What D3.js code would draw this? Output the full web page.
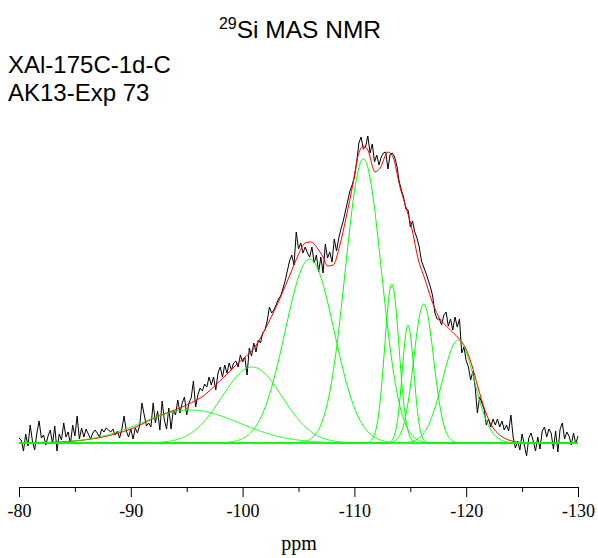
<!DOCTYPE html>
<html>
<head>
<meta charset="utf-8">
<script src="https://cdn.jsdelivr.net/npm/d3@7"></script>
<style>
  html, body { margin: 0; padding: 0; background: #fff; }
  svg { display: block; }
</style>
</head>
<body>
<svg id="chart" width="598" height="558"></svg>
<script>
// ---------------------------------------------------------------
// Data
// ---------------------------------------------------------------

// measured spectrum, one value every 0.2 ppm from -80 to -130
const specStart = -80;
const specStep = -0.2;
const specValues = [
  5, 3, -8, 9, -3, 18, 2, -7, 10, 22,
  5, 8, -2, 7, 13, -1, 17, -8, 9, 3,
  20, 6, 11, -1, 18, 7, 27, 4, 15, 6,
  14, 9, 4, 10, 13, 10, 6, 14, 11, 15,
  13, 11, 14, 8, 12, 5, 14, 27, 12, 6,
  14, 4, 15, 10, 18, 40, 28, 17, 20, 16,
  40, 20, 32, 13, 42, 23, 14, 35, 14, 33,
  28, 43, 30, 40, 46, 28, 40, 45, 62, 36,
  48, 55, 52, 59, 56, 66, 58, 66, 53, 70,
  76, 66, 78, 70, 80, 73, 80, 82, 76, 88,
  81, 86, 68, 95, 87, 100, 91, 103, 100, 110,
  113, 122, 136, 130, 133, 138, 144, 147, 154, 162,
  172, 182, 188, 178, 211, 194, 200, 190, 196, 190,
  186, 196, 180, 188, 171, 186, 170, 199, 185, 191,
  181, 204, 192, 205, 214, 222, 232, 242, 252, 258,
  266, 280, 300, 306, 294, 296, 307, 290, 299, 281,
  288, 278, 286, 290, 291, 274, 289, 290, 286, 277,
  262, 253, 246, 234, 233, 216, 222, 211, 205, 196,
  182, 176, 170, 163, 156, 147, 130, 124, 124, 118,
  128, 131, 117, 124, 113, 126, 116, 124, 90, 96,
  82, 76, 63, 72, 56, 30, 46, 40, 34, 18,
  24, 16, 24, 18, 24, 16, 22, 13, 18, 12,
  28, 6, -5, 2, -7, 9, -2, -13, 5, 10,
  2, -8, 6, -6, 12, 16, 6, 14, 10, -6,
  12, -9, 14, 20, 4, 11, 7, -2, 10, -1,
  7
];

// red fit envelope
const fitPpm = [
  -80, -82.5, -85, -87.5, -90, -92.5, -95, -96.6, -97.5, -99.6,
  -101.1, -102.3, -103.4, -104.3, -104.9, -105.6, -106.1, -106.8, -107.2, -107.6,
  -108.1, -108.7, -109.25, -109.9, -110.3, -110.8, -111.2, -111.85, -112.3, -113.0,
  -113.45, -114.1, -114.5, -115.15, -115.7, -116.3, -116.9, -117.5, -118.4, -119.3,
  -119.9, -120.5, -121.05, -121.7, -122.3, -123.0, -123.8, -125, -127.5, -130
];
const fitValues = [
  0, 0.5, 2, 6, 14, 27, 38, 48, 57, 80,
  96, 120, 146, 170, 186, 200, 201, 193, 186, 177,
  178, 198, 225, 261, 286, 297, 293, 271, 275, 291,
  286, 255, 240, 214, 184, 164, 143, 127, 115, 105,
  96, 78, 56, 32, 17, 8, 3, 0.5, 0, 0
];

// green components: position (ppm), height, width (sigma, ppm)
const peakCenters = [-95.3, -100.85, -106.0, -110.8, -113.35, -114.8, -116.2, -119.3];
const peakHeights = [33, 76, 184, 284, 159, 118, 139, 103];
const peakWidths  = [4.4, 2.7, 2.2, 1.62, 0.64, 0.52, 0.89, 1.43];

const majorTicks = [-80, -90, -100, -110, -120, -130];
const minorTicks = [-85, -95, -105, -115, -125];

// ---------------------------------------------------------------
// Scales
// ---------------------------------------------------------------
const svg = d3.select('#chart');

const x = d3.scaleLinear().domain([-80, -130]).range([19, 578]);
const y = d3.scaleLinear().domain([0, 300]).range([443, 143]);

// ---------------------------------------------------------------
// Titles
// ---------------------------------------------------------------
const title = svg.append('text')
  .attr('x', 300)
  .attr('y', 38)
  .attr('text-anchor', 'middle')
  .attr('font-family', 'Liberation Sans, Arial, sans-serif')
  .attr('font-size', 24.5)
  .attr('fill', '#000');
title.append('tspan').attr('font-size', 16).attr('dy', -9).text('29');
title.append('tspan').attr('dy', 9).text('Si MAS NMR');

svg.append('text')
  .attr('x', 8).attr('y', 73)
  .attr('font-family', 'Liberation Sans, Arial, sans-serif')
  .attr('font-size', 24)
  .text('XAl-175C-1d-C');

svg.append('text')
  .attr('x', 8).attr('y', 101)
  .attr('font-family', 'Liberation Sans, Arial, sans-serif')
  .attr('font-size', 24)
  .text('AK13-Exp 73');

// ---------------------------------------------------------------
// Curves
// ---------------------------------------------------------------
const spectrum = specValues.map((v, i) => [specStart + specStep * i, v]);

const line = d3.line()
  .x((d) => x(d[0]))
  .y((d) => y(d[1]));

svg.append('path')
  .datum(spectrum)
  .attr('fill', 'none')
  .attr('stroke', '#000')
  .attr('stroke-width', 1)
  .attr('d', line);

svg.append('path')
  .datum(fitPpm.map((p, i) => [p, fitValues[i]]))
  .attr('fill', 'none')
  .attr('stroke', '#ff0000')
  .attr('stroke-width', 1)
  .attr('d', line.curve(d3.curveMonotoneX));

line.curve(d3.curveLinear);

// sample grid for the gaussian components
const grid = d3.range(0, 1001).map((i) => -80 - i * 0.05);

peakCenters.forEach((c, k) => {
  const pts = grid.map((p) => [
    p,
    peakHeights[k] * Math.exp(-0.5 * ((p - c) / peakWidths[k]) ** 2),
  ]);
  svg.append('path')
    .datum(pts)
    .attr('fill', 'none')
    .attr('stroke', '#00ff00')
    .attr('stroke-width', 1)
    .attr('d', line);
});

// ---------------------------------------------------------------
// Axis
// ---------------------------------------------------------------
const axisG = svg.append('g').attr('transform', 'translate(0,487)');

axisG.call(
  d3.axisBottom(x)
    .tickValues(majorTicks)
    .tickSize(10)
    .tickSizeOuter(0)
    .tickPadding(7)
    .tickFormat((d) => String(d))
);

axisG.append('g').call(
  d3.axisBottom(x)
    .tickValues(minorTicks)
    .tickSize(5)
    .tickSizeOuter(0)
    .tickFormat('')
).select('.domain').remove();

axisG.selectAll('text')
  .attr('font-family', 'Liberation Serif, Times New Roman, serif')
  .attr('font-size', 18)
  .attr('fill', '#000');
axisG.selectAll('line, path').attr('stroke', '#000');

svg.append('text')
  .attr('x', 299)
  .attr('y', 550)
  .attr('text-anchor', 'middle')
  .attr('font-family', 'Liberation Serif, Times New Roman, serif')
  .attr('font-size', 20)
  .text('ppm');
</script>
</body>
</html>
